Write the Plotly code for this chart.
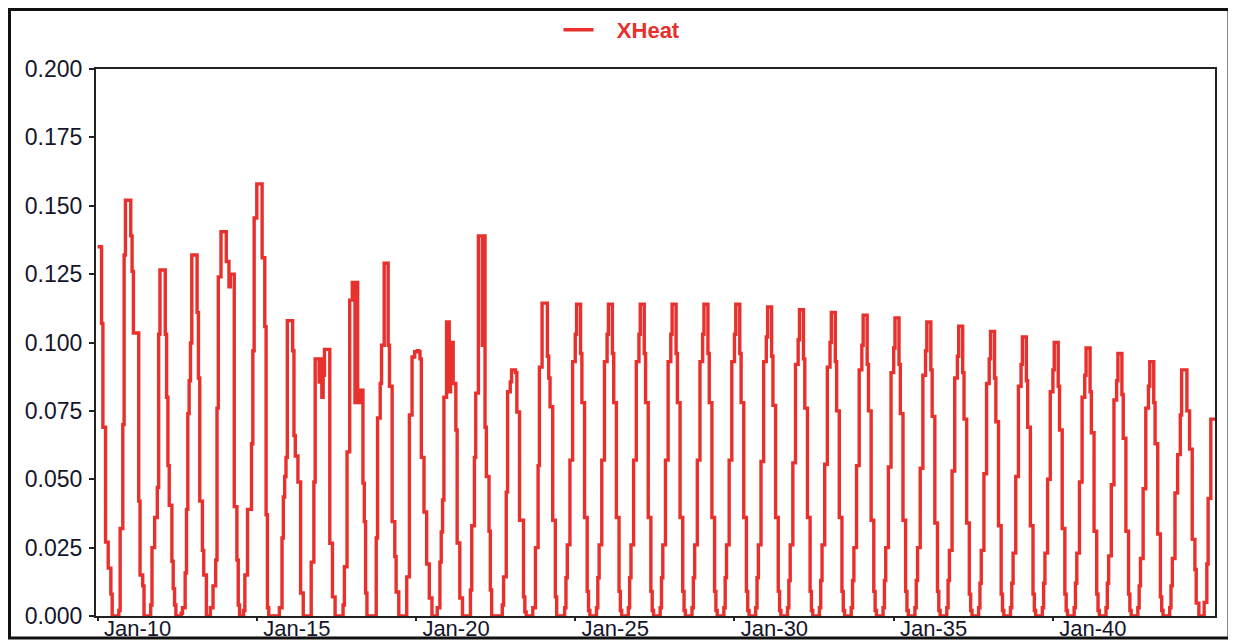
import plotly.graph_objects as go

# ---- data: hourly XHeat values, one row of 24 hours per day (Jan-10 .. Jan-44) ----
days = list(range(10, 45))

xheat_hourly = [
    # Jan-10
    [0.135, 0.135, 0.135, 0.107, 0.069, 0.069, 0.027, 0.027, 0.0175, 0.0175, 0.008, 0, 0, 0, 0, 0, 0.002, 0.032, 0.032, 0.070, 0.132, 0.152, 0.152, 0.152],
    # Jan-11
    [0.152, 0.139, 0.126, 0.1035, 0.1035, 0.1035, 0.1035, 0.042, 0.015, 0.015, 0.011, 0, 0, 0, 0, 0, 0.004, 0.025, 0.025, 0.036, 0.036, 0.047, 0.103, 0.1265],
    # Jan-12
    [0.1265, 0.1265, 0.1265, 0.103, 0.080, 0.055, 0.0405, 0.0405, 0.020, 0.010, 0.004, 0, 0, 0, 0, 0.001, 0.003, 0.003, 0.0157, 0.039, 0.074, 0.086, 0.0998, 0.132],
    # Jan-13
    [0.132, 0.132, 0.132, 0.111, 0.087, 0.042, 0.042, 0.024, 0.015, 0.015, 0, 0, 0, 0.003, 0.003, 0.011, 0.011, 0.0205, 0.076, 0.124, 0.124, 0.1405, 0.1405, 0.1405],
    # Jan-14
    [0.1405, 0.1296, 0.1296, 0.1204, 0.125, 0.125, 0.125, 0.040, 0.040, 0.0205, 0.004, 0, 0, 0, 0.002, 0.015, 0.015, 0.039, 0.039, 0.039, 0.063, 0.097, 0.1455, 0.1455],
    # Jan-15
    [0.158, 0.158, 0.158, 0.158, 0.131, 0.131, 0.1058, 0.037, 0.003, 0, 0, 0, 0, 0, 0, 0, 0, 0.003, 0.003, 0.0285, 0.0435, 0.051, 0.058, 0.108],
    # Jan-16
    [0.108, 0.108, 0.108, 0.097, 0.066, 0.0585, 0.0585, 0.049, 0.049, 0.0084, 0.0084, 0, 0, 0, 0, 0, 0, 0.0197, 0.0197, 0.049, 0.094, 0.094, 0.094, 0.0855],
    # Jan-17
    [0.094, 0.080, 0.088, 0.0975, 0.0975, 0.0975, 0.0975, 0.0266, 0.0266, 0.007, 0.007, 0, 0, 0, 0, 0, 0, 0.004, 0.018, 0.018, 0.060, 0.060, 0.1155, 0.1155],
    # Jan-18
    [0.122, 0.122, 0.078, 0.122, 0.0826, 0.078, 0.0826, 0.0826, 0.0486, 0.0345, 0.0084, 0, 0, 0, 0, 0, 0, 0, 0.0285, 0.0724, 0.0724, 0.085, 0.099, 0.099],
    # Jan-19
    [0.129, 0.129, 0.129, 0.099, 0.084, 0.084, 0.0345, 0.0345, 0.0217, 0.0088, 0.0088, 0, 0, 0, 0, 0, 0, 0.0143, 0.0143, 0.0735, 0.0735, 0.0947, 0.0947, 0.0966],
    # Jan-20
    [0.0966, 0.097, 0.0966, 0.094, 0.058, 0.058, 0.038, 0.038, 0.019, 0.019, 0.0066, 0.0066, 0, 0, 0, 0, 0.003, 0.003, 0.0197, 0.0307, 0.0424, 0.080, 0.080, 0.1075],
    # Jan-21
    [0.1075, 0.082, 0.100, 0.100, 0.085, 0.085, 0.068, 0.0267, 0.0267, 0.0066, 0.0066, 0, 0, 0, 0, 0, 0, 0.0095, 0.033, 0.033, 0.058, 0.0815, 0.0815, 0.139],
    # Jan-22
    [0.139, 0.139, 0.099, 0.139, 0.069, 0.051, 0.051, 0.031, 0.0095, 0, 0, 0, 0, 0, 0, 0, 0, 0.004, 0.0143, 0.0143, 0.0453, 0.082, 0.082, 0.0856],
    # Jan-23
    [0.090, 0.090, 0.090, 0.089, 0.0746, 0.0746, 0.035, 0.035, 0.035, 0.007, 0.0015, 0, 0, 0, 0, 0, 0.003, 0.003, 0.025, 0.025, 0.055, 0.091, 0.091, 0.1144],
    # Jan-24
    [0.1144, 0.1144, 0.1144, 0.095, 0.087, 0.0765, 0.0765, 0.035, 0.035, 0.007, 0, 0, 0, 0, 0, 0, 0.003, 0.014, 0.026, 0.026, 0.057, 0.057, 0.093, 0.093],
    # Jan-25
    [0.103, 0.114, 0.114, 0.114, 0.096, 0.078, 0.078, 0.036, 0.036, 0.009, 0.002, 0, 0, 0, 0, 0, 0.003, 0.014, 0.026, 0.026, 0.057, 0.057, 0.093, 0.093],
    # Jan-26
    [0.103, 0.114, 0.114, 0.114, 0.096, 0.078, 0.078, 0.036, 0.036, 0.009, 0.002, 0, 0, 0, 0, 0, 0.003, 0.014, 0.026, 0.026, 0.057, 0.057, 0.093, 0.093],
    # Jan-27
    [0.103, 0.114, 0.114, 0.114, 0.096, 0.078, 0.078, 0.036, 0.036, 0.009, 0.002, 0, 0, 0, 0, 0, 0.003, 0.014, 0.026, 0.026, 0.057, 0.057, 0.093, 0.093],
    # Jan-28
    [0.103, 0.114, 0.114, 0.114, 0.096, 0.078, 0.078, 0.036, 0.036, 0.009, 0.002, 0, 0, 0, 0, 0, 0.003, 0.014, 0.026, 0.026, 0.057, 0.057, 0.093, 0.093],
    # Jan-29
    [0.103, 0.114, 0.114, 0.114, 0.096, 0.078, 0.078, 0.036, 0.036, 0.009, 0.002, 0, 0, 0, 0, 0, 0.003, 0.014, 0.026, 0.026, 0.057, 0.057, 0.093, 0.093],
    # Jan-30
    [0.103, 0.114, 0.114, 0.114, 0.096, 0.078, 0.078, 0.036, 0.036, 0.009, 0.002, 0, 0, 0, 0, 0, 0.003, 0.014, 0.026, 0.026, 0.0565, 0.0565, 0.093, 0.093],
    # Jan-31
    [0.102, 0.113, 0.113, 0.113, 0.095, 0.077, 0.077, 0.036, 0.036, 0.009, 0.002, 0, 0, 0, 0, 0, 0.003, 0.013, 0.026, 0.026, 0.056, 0.056, 0.092, 0.092],
    # Jan-32
    [0.101, 0.112, 0.112, 0.112, 0.094, 0.076, 0.076, 0.036, 0.036, 0.009, 0.002, 0, 0, 0, 0, 0, 0.003, 0.013, 0.026, 0.026, 0.0555, 0.0555, 0.091, 0.091],
    # Jan-33
    [0.100, 0.111, 0.111, 0.111, 0.093, 0.075, 0.075, 0.036, 0.036, 0.009, 0.002, 0, 0, 0, 0, 0, 0.003, 0.013, 0.025, 0.025, 0.055, 0.055, 0.090, 0.090],
    # Jan-34
    [0.099, 0.110, 0.110, 0.110, 0.092, 0.075, 0.075, 0.035, 0.035, 0.009, 0.002, 0, 0, 0, 0, 0, 0.003, 0.013, 0.025, 0.025, 0.0545, 0.0545, 0.089, 0.089],
    # Jan-35
    [0.098, 0.109, 0.109, 0.109, 0.092, 0.074, 0.074, 0.035, 0.035, 0.009, 0.002, 0, 0, 0, 0, 0, 0.003, 0.013, 0.025, 0.025, 0.054, 0.054, 0.088, 0.088],
    # Jan-36
    [0.097, 0.1075, 0.1075, 0.1075, 0.090, 0.073, 0.073, 0.034, 0.034, 0.009, 0.002, 0, 0, 0, 0, 0, 0.003, 0.013, 0.024, 0.024, 0.053, 0.053, 0.087, 0.087],
    # Jan-37
    [0.095, 0.106, 0.106, 0.106, 0.089, 0.072, 0.072, 0.034, 0.034, 0.008, 0.002, 0, 0, 0, 0, 0, 0.003, 0.012, 0.024, 0.024, 0.052, 0.052, 0.085, 0.085],
    # Jan-38
    [0.094, 0.104, 0.104, 0.104, 0.087, 0.071, 0.071, 0.033, 0.033, 0.008, 0.002, 0, 0, 0, 0, 0, 0.003, 0.012, 0.023, 0.023, 0.051, 0.051, 0.084, 0.084],
    # Jan-39
    [0.092, 0.102, 0.102, 0.102, 0.086, 0.069, 0.069, 0.033, 0.033, 0.008, 0.002, 0, 0, 0, 0, 0, 0.003, 0.012, 0.023, 0.023, 0.050, 0.050, 0.082, 0.082],
    # Jan-40
    [0.090, 0.100, 0.100, 0.100, 0.084, 0.068, 0.068, 0.032, 0.032, 0.008, 0.002, 0, 0, 0, 0, 0, 0.003, 0.012, 0.023, 0.023, 0.049, 0.049, 0.080, 0.080],
    # Jan-41
    [0.088, 0.098, 0.098, 0.098, 0.082, 0.067, 0.067, 0.031, 0.031, 0.008, 0.002, 0, 0, 0, 0, 0, 0.003, 0.012, 0.022, 0.022, 0.048, 0.048, 0.079, 0.079],
    # Jan-42
    [0.086, 0.096, 0.096, 0.096, 0.081, 0.065, 0.065, 0.031, 0.031, 0.008, 0.002, 0, 0, 0, 0, 0, 0.003, 0.011, 0.021, 0.021, 0.0465, 0.0465, 0.076, 0.076],
    # Jan-43
    [0.084, 0.093, 0.093, 0.093, 0.078, 0.063, 0.063, 0.030, 0.030, 0.007, 0.002, 0, 0, 0, 0, 0, 0.003, 0.011, 0.021, 0.021, 0.045, 0.045, 0.059, 0.059],
    # Jan-44
    [0.0735, 0.090, 0.090, 0.090, 0.090, 0.075, 0.075, 0.061, 0.061, 0.028, 0.028, 0.017, 0.0047, 0.0047, 0, 0, 0, 0, 0.005, 0.005, 0.019, 0.043, 0.043, 0.072],
]

end_day = 45.2            # series continues past the visible right edge
end_value = 0.072

tick_days = [10, 15, 20, 25, 30, 35, 40]
tick_labels = ["Jan-10", "Jan-15", "Jan-20", "Jan-25", "Jan-30", "Jan-35", "Jan-40"]
y_ticks = [0.0, 0.025, 0.05, 0.075, 0.1, 0.125, 0.15, 0.175, 0.2]

series_name = "XHeat"
RED = "#E8302D"
INK = "#15152a"

# ---- build hourly x/y from the day rows ----
xs, ys = [], []
for d, row in zip(days, xheat_hourly):
    for h, v in enumerate(row):
        xs.append(d + h / 24.0)
        ys.append(v)
xs.append(end_day)
ys.append(end_value)

fig = go.Figure()
fig.add_trace(go.Scatter(
    x=xs, y=ys, mode="lines", name="\u00a0\u00a0\u00a0" + series_name,
    line=dict(color=RED, width=3.4, shape="hv"),
    showlegend=True,
))

# the page body has an 8px margin, so the figure is sized to the remaining window
OFF = 8
W, H = 1236 - OFF, 643 - OFF
L, R, T, B = 96 - OFF, 21, 69 - OFF, 27
pw, ph = W - L - R, H - T - B

def px_x(page_x):
    return (page_x - OFF - L) / pw

def px_y(page_y):
    return (H - B - (page_y - OFF)) / ph

font_family = "Liberation Sans, Arial, sans-serif"

fig.update_layout(
    width=W, height=H,
    margin=dict(l=L, r=R, t=T, b=B, pad=0, autoexpand=False),
    paper_bgcolor="white", plot_bgcolor="white",
    font=dict(family=font_family, size=23, color=INK),
    showlegend=True,
    legend=dict(
        orientation="h",
        xref="container", x=(622 - OFF) / W, xanchor="center",
        yref="container", y=1 - (30 - OFF) / H, yanchor="middle",
        font=dict(family=font_family, size=22, color=RED, weight="bold"),
        bgcolor="rgba(0,0,0,0)",
    ),
    xaxis=dict(
        range=[9.95, 45.09],
        tickmode="array", tickvals=tick_days, ticktext=tick_labels,
        ticks="outside", ticklen=3, tickwidth=2, tickcolor="#222",
        showline=True, linecolor="#222", linewidth=2, mirror=True,
        showgrid=False, zeroline=False, automargin=False,
        tickfont=dict(family=font_family, size=22, color=INK),
        ticklabelshift=40, ticklabelstandoff=-11,
    ),
    yaxis=dict(
        range=[0, 0.2],
        tickmode="array", tickvals=y_ticks, tickformat=".3f",
        ticks="outside", ticklen=5, tickwidth=2, tickcolor="#222",
        showline=True, linecolor="#222", linewidth=2, mirror=True,
        showgrid=False, zeroline=False, automargin=False,
        tickfont=dict(family=font_family, size=23, color=INK),
        ticklabelstandoff=2,
    ),
)

# outer frame around the whole chart
fig.add_shape(type="rect", xref="paper", yref="paper",
              x0=px_x(9.5), x1=px_x(1229), y0=px_y(638), y1=px_y(9.5),
              line=dict(color="#111", width=3), fillcolor="rgba(0,0,0,0)", layer="above")

fig.write_html("out.html")
